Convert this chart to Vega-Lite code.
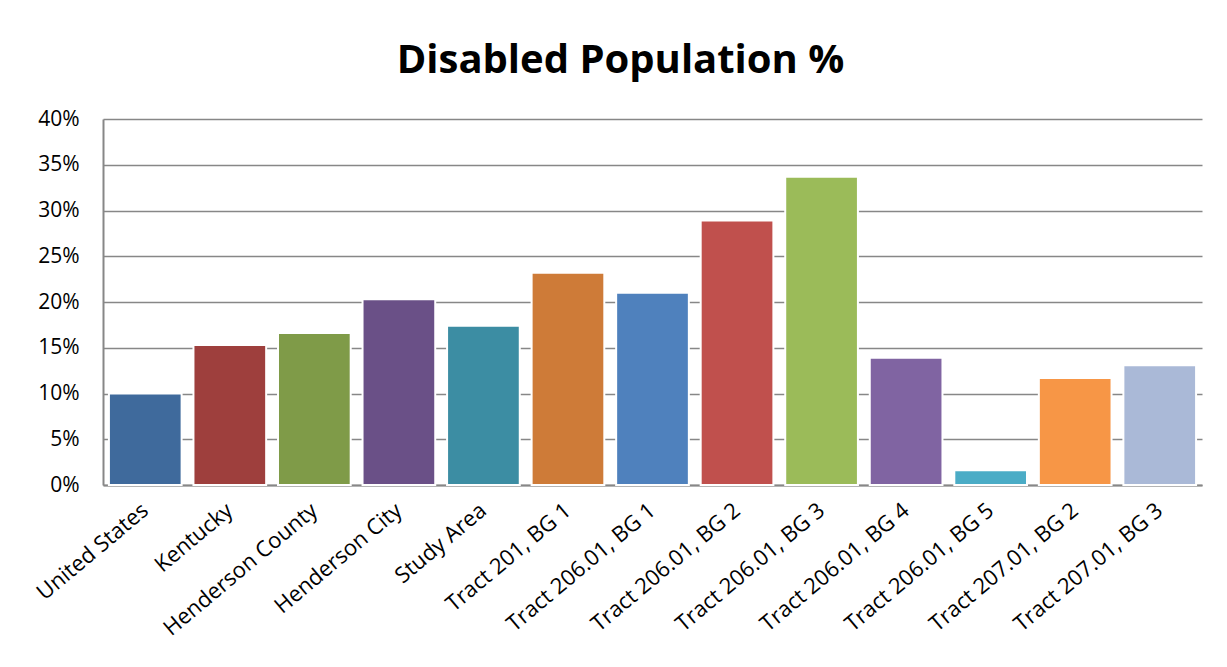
{
  "$schema": "https://vega.github.io/schema/vega-lite/v6.json",
  "width": 1099,
  "height": 366,
  "autosize": {"type": "none"},
  "padding": {"left": 103, "top": 119, "right": 25, "bottom": 182},
  "background": "white",
  "title": {
    "text": "Disabled Population %",
    "font": "Open Sans",
    "fontSize": 40,
    "fontWeight": "bold",
    "color": "#000000",
    "anchor": "middle",
    "offset": 27,
    "dx": -32
  },
  "data": {
    "values": [
      {"area": "United States", "pct": 0.100},
      {"area": "Kentucky", "pct": 0.153},
      {"area": "Henderson County", "pct": 0.166},
      {"area": "Henderson City", "pct": 0.203},
      {"area": "Study Area", "pct": 0.174},
      {"area": "Tract 201, BG 1", "pct": 0.232},
      {"area": "Tract 206.01, BG 1", "pct": 0.210},
      {"area": "Tract 206.01, BG 2", "pct": 0.289},
      {"area": "Tract 206.01, BG 3", "pct": 0.337},
      {"area": "Tract 206.01, BG 4", "pct": 0.139},
      {"area": "Tract 206.01, BG 5", "pct": 0.016},
      {"area": "Tract 207.01, BG 2", "pct": 0.117},
      {"area": "Tract 207.01, BG 3", "pct": 0.131}
    ]
  },
  "mark": {"type": "bar", "stroke": "#ffffff", "strokeWidth": 2},
  "encoding": {
    "x": {
      "field": "area",
      "type": "nominal",
      "sort": null,
      "title": null,
      "scale": {"paddingInner": 0.14, "paddingOuter": 0.07},
      "axis": {
        "labelAngle": -40,
        "labelAlign": "right",
        "labelBaseline": "middle",
        "labelFont": "Open Sans",
        "labelFontSize": 22,
        "labelColor": "#000000",
        "labelPadding": 22,
        "labelOverlap": false,
        "labelLimit": 400,
        "domainColor": "#878787",
        "domainWidth": 2,
        "ticks": false,
        "grid": false
      }
    },
    "y": {
      "field": "pct",
      "type": "quantitative",
      "title": null,
      "scale": {"domain": [0, 0.4], "nice": false},
      "axis": {
        "format": ".0%",
        "values": [0, 0.05, 0.1, 0.15, 0.2, 0.25, 0.3, 0.35, 0.4],
        "labelFont": "Open Sans",
        "labelFontSize": 21,
        "labelColor": "#000000",
        "labelPadding": 24,
        "ticks": false,
        "domainColor": "#878787",
        "domainWidth": 2,
        "grid": true,
        "gridColor": "#878787",
        "gridWidth": 1.5
      }
    },
    "color": {
      "field": "area",
      "type": "nominal",
      "sort": null,
      "legend": null,
      "scale": {
        "domain": ["United States", "Kentucky", "Henderson County", "Henderson City", "Study Area", "Tract 201, BG 1", "Tract 206.01, BG 1", "Tract 206.01, BG 2", "Tract 206.01, BG 3", "Tract 206.01, BG 4", "Tract 206.01, BG 5", "Tract 207.01, BG 2", "Tract 207.01, BG 3"],
        "range": ["#3F6A9C", "#9E3F3D", "#7F9B48", "#6A5087", "#3C8DA3", "#CE7B38", "#4F81BD", "#C0504D", "#9BBB59", "#8064A2", "#4BACC6", "#F79646", "#AAB9D7"]
      }
    }
  },
  "config": {"view": {"stroke": null}}
}
